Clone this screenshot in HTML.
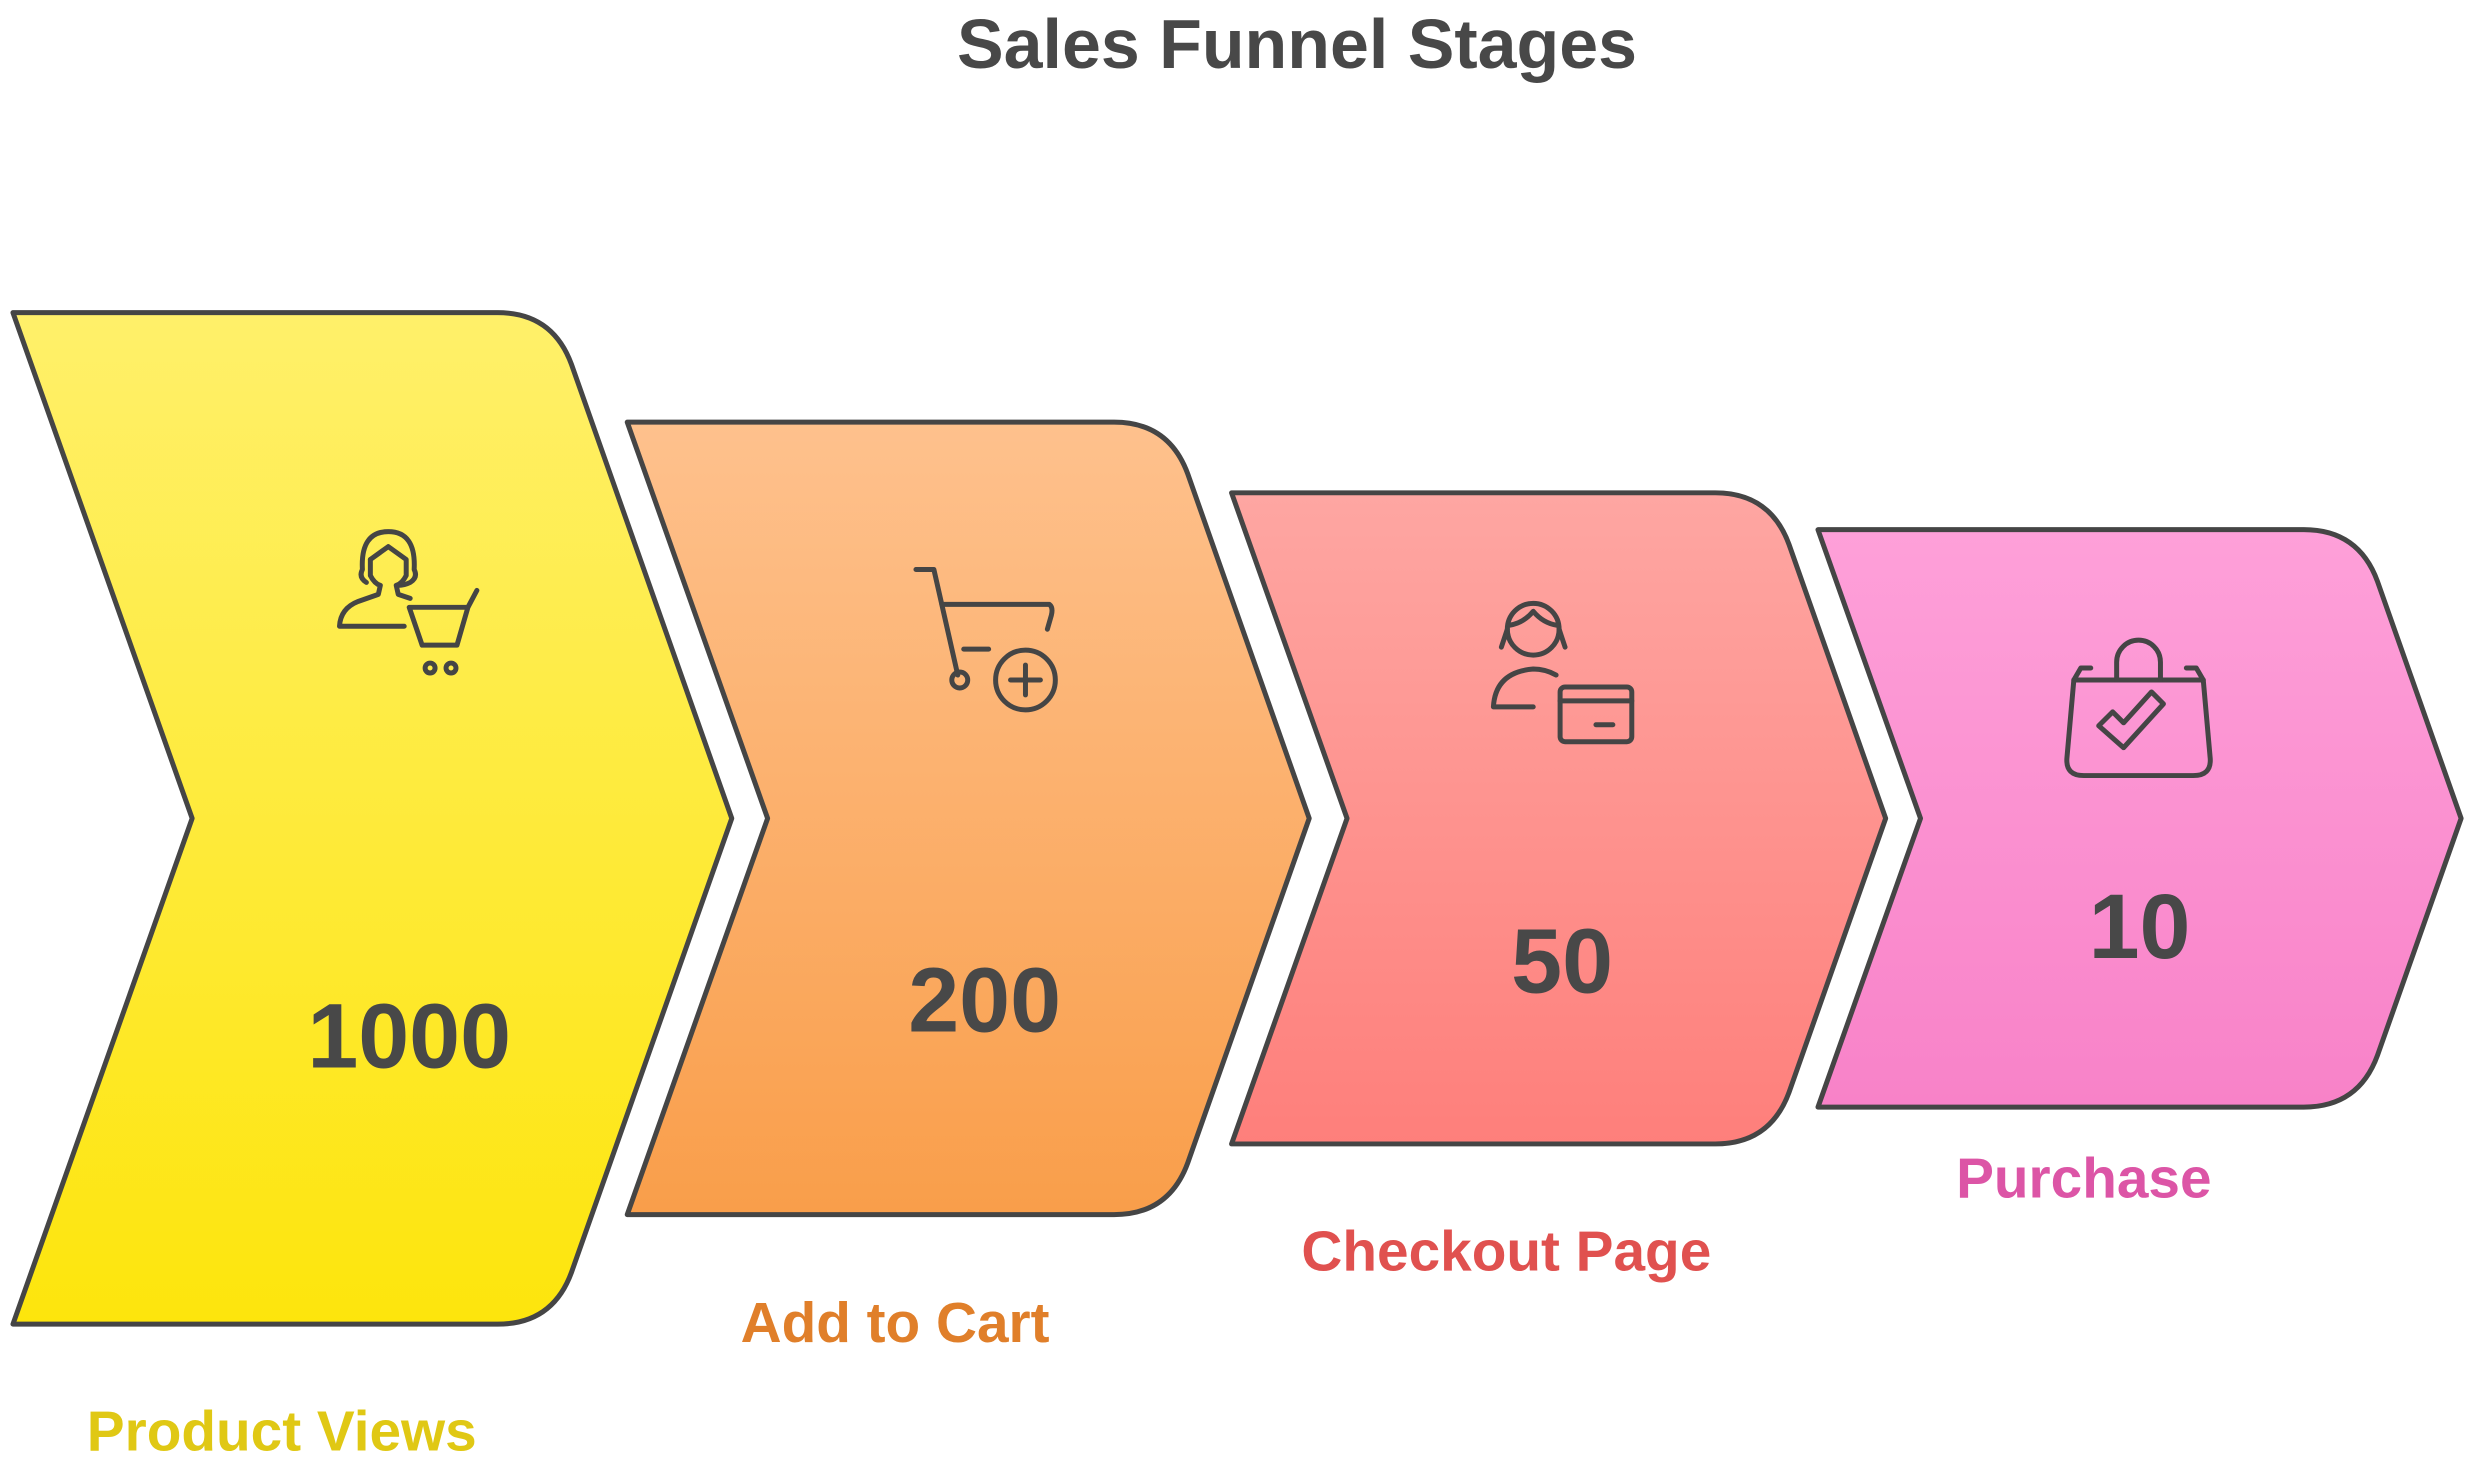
<!DOCTYPE html>
<html><head><meta charset="utf-8"><style>
html,body{margin:0;padding:0;background:#fff;}
svg{display:block;}
text{font-family:"Liberation Sans",sans-serif;font-weight:bold;}
</style></head><body>
<svg width="2477" height="1464" viewBox="0 0 2477 1464" xmlns="http://www.w3.org/2000/svg">
<defs>
<linearGradient id="g1" x1="0" y1="0" x2="0" y2="1"><stop offset="0" stop-color="#fff06a"/><stop offset="1" stop-color="#fde50c"/></linearGradient>
<linearGradient id="g2" x1="0" y1="0" x2="0" y2="1"><stop offset="0" stop-color="#fec18d"/><stop offset="1" stop-color="#f99e4a"/></linearGradient>
<linearGradient id="g3" x1="0" y1="0" x2="0" y2="1"><stop offset="0" stop-color="#fea6a2"/><stop offset="1" stop-color="#fe7f7b"/></linearGradient>
<linearGradient id="g4" x1="0" y1="0" x2="0" y2="1"><stop offset="0" stop-color="#fea0d9"/><stop offset="1" stop-color="#f882c8"/></linearGradient>
</defs>
<text x="1297" y="68" font-size="70" fill="#484848" text-anchor="middle" textLength="680" lengthAdjust="spacingAndGlyphs">Sales Funnel Stages</text>

<g transform="scale(0.9956)">
<g stroke="#454545" stroke-width="5" stroke-linejoin="round">
<path d="M13,314 L500,314 Q555,314 574,366 L735,822 L574,1278 Q555,1330 500,1330 L13,1330 L193,822 Z" fill="url(#g1)"/>
<path d="M630,424 L1119,424 Q1174,424 1193,476 L1315,822 L1193,1168 Q1174,1220 1119,1220 L630,1220 L771,822 Z" fill="url(#g2)"/>
<path d="M1237,495 L1723,495 Q1778,495 1797,547 L1894,822 L1797,1097 Q1778,1149 1723,1149 L1237,1149 L1353,822 Z" fill="url(#g3)"/>
<path d="M1826,532 L2314,532 Q2369,532 2388,584 L2472,822 L2388,1060 Q2369,1112 2314,1112 L1826,1112 L1929,822 Z" fill="url(#g4)"/>
</g>

<g fill="none" stroke="#454545" stroke-width="5" stroke-linecap="round" stroke-linejoin="round">
<!-- icon1 -->
<path d="M368,585 Q360,580 364,572 Q362,534 390,534 Q418,534 416,572 Q420,580 412,585 Q406,588 400,588"/>
<path d="M372,562 L390,549 L408,562 L408,578 Q404,586 398,588 L400,597 L412,601"/>
<path d="M372,562 L372,578 Q376,586 382,588 L380,597 L360,604 Q342,611 341,629 L406,629"/>
<path d="M411,610 L470,610 L459,648 L424,648 Z M470,610 L479,593"/>
<circle cx="432" cy="671" r="5"/><circle cx="453" cy="671" r="5"/>
<!-- icon2 -->
<path d="M920,572 L938,572 L962,678"/>
<path d="M946,607 L1054,607 Q1058,610 1056,618 L1052,632"/>
<path d="M968,652 L993,652"/>
<circle cx="964" cy="683" r="8"/>
<circle cx="1030" cy="683" r="30"/>
<path d="M1030,668 V698 M1015,683 H1045"/>
<!-- icon3 -->
<g>
<circle cx="1540" cy="632" r="26"/>
<path d="M1514,632 L1508,650 M1566,632 L1572,650 M1516,628 Q1530,626 1540,614 Q1550,626 1564,628"/>
<path d="M1500,710 Q1502,675 1540,672 Q1552,672 1563,678 M1500,710 L1540,710"/>
<rect x="1567" y="690" width="72" height="55" rx="5"/>
<path d="M1567,704 H1639 M1603,728 H1620"/>
</g>
<!-- icon4 -->
<g transform="translate(-2,-5)">
<path d="M2085,688 L2215,688 L2222,767 Q2223,784 2205,784 L2095,784 Q2077,784 2078,767 Z"/>
<path d="M2085,688 L2092,676 L2102,676 M2215,688 L2208,676 L2198,676"/>
<path d="M2128,688 V670 A22,22 0 0 1 2172,670 V688"/>
<path d="M2110,734 L2124,720 L2135,731 L2163,700 L2175,712 L2135,756 Z"/>
</g>
</g>

<g fill="#484848" font-size="92" text-anchor="middle">
<text x="411" y="1072">1000</text>
<text x="989" y="1036">200</text>
<text x="1569" y="997">50</text>
<text x="2149" y="962">10</text>
</g>
<g font-size="57" text-anchor="middle">
<text x="283" y="1457" fill="#e0c814">Product Views</text>
<text x="899" y="1348" fill="#e07f2a">Add to Cart</text>
<text x="1513" y="1276" fill="#e0514f">Checkout Page</text>
<text x="2093" y="1203" fill="#dc55a6">Purchase</text>
</g>
</g>
</svg>
</body></html>
